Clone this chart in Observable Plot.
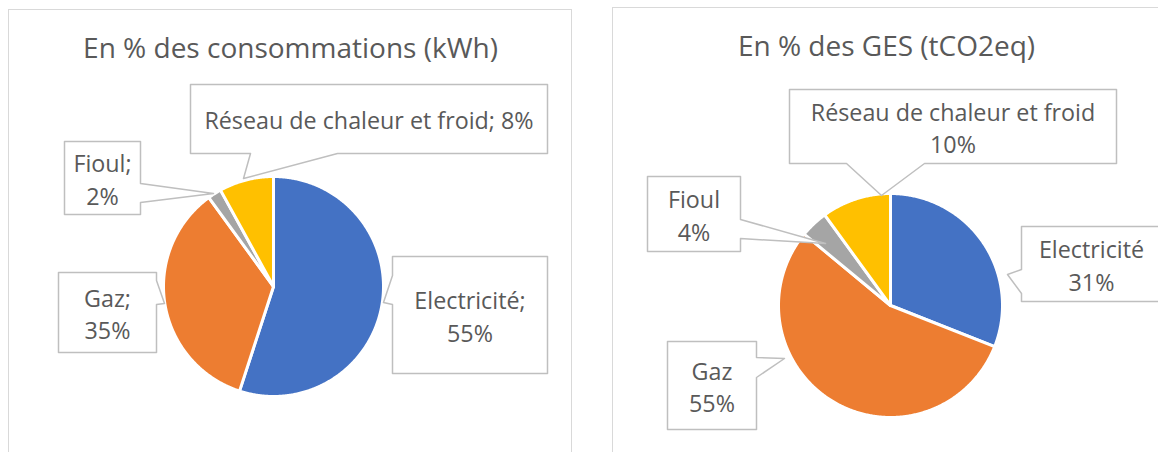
<!DOCTYPE html>
<html><head><meta charset="utf-8">
<script src="https://cdn.jsdelivr.net/npm/d3@7"></script>
<script src="https://cdn.jsdelivr.net/npm/@observablehq/plot@0.6"></script>
<style>
body{margin:0;background:#fff;}
#root{position:relative;width:1158px;height:452px;overflow:hidden;background:#fff;}
.frame{position:absolute;border:1.5px solid #d9d9d9;box-sizing:border-box;}
.plot{position:absolute;}
</style></head><body><div id="root"></div>
<script>
// ---- data ----
const categories = ["Electricité", "Gaz", "Fioul", "Réseau de chaleur et froid"];
const consommations = [55, 35, 2, 8];
const ges = [31, 55, 4, 10];
const titles = ["En % des consommations (kWh)", "En % des GES (tCO2eq)"];
const colors = ["#4472C4", "#ED7D31", "#A5A5A5", "#FFC000"];

// ---- layout ----
const FONT = "'Open Sans', 'Noto Sans', sans-serif";
const TEXT = "#595959";
const layouts = [
  {values: consommations, title: titles[0], sep: ";", left: 8, top: 9, width: 564,
   cx: 273, cy: 286, r: 110, titleX: 290, titleY: 49,
   labels: [
     {box: [392, 256, 547, 373], side: "left", base: [275, 304], tip: [383, 302], wrap: true},
     {box: [58, 272, 156, 352], side: "right", base: [280, 304], tip: [164, 303], wrap: true},
     {box: [64, 141, 140, 214], side: "right", base: [183, 202], tip: [213, 193], wrap: true},
     {box: [190, 84, 547, 153], side: "bottom", base: [250, 337], tip: [243, 178], wrap: false}
   ]},
  {values: ges, title: titles[1], sep: "", left: 612, top: 7, width: 560,
   cx: 890, cy: 305, r: 112, titleX: 886, titleY: 47,
   labels: [
     {box: [1021, 226, 1161, 301], side: "left", base: [269, 293], tip: [1007, 274], wrap: true},
     {box: [667, 341, 756, 429], side: "right", base: [357, 377], tip: [784, 358], wrap: true},
     {box: [647, 176, 740, 251], side: "right", base: [219, 238], tip: [825, 243], wrap: true},
     {box: [789, 89, 1116, 163], side: "bottom", base: [846, 924], tip: [881, 195], wrap: true}
   ]}
];

function calloutPoints(L, id) {
  const [x0, y0, x1, y1] = L.box, [b0, b1] = L.base, [tx, ty] = L.tip;
  const p = [[x0, y0], [x1, y0]];
  if (L.side === "right") p.push([x1, b0], [tx, ty], [x1, b1]);
  p.push([x1, y1]);
  if (L.side === "bottom") p.push([b1, y1], [tx, ty], [b0, y1]);
  p.push([x0, y1]);
  if (L.side === "left") p.push([x0, b1], [tx, ty], [x0, b0]);
  p.push([x0, y0]);
  return p.map(([x, y]) => ({id, x, y}));
}

const root = document.getElementById("root");
layouts.forEach((lay) => {
  const rows = categories.map((cat, i) => ({cat, value: lay.values[i]}));
  const arcs = d3.pie().sort(null).value(d => d.value)(rows);
  const slicePts = [];
  arcs.forEach(a => {
    const cat = a.data.cat;
    slicePts.push({cat, x: lay.cx, y: lay.cy});
    const n = Math.max(2, Math.ceil((a.endAngle - a.startAngle) / (Math.PI / 360)));
    for (let j = 0; j <= n; j++) {
      const t = a.startAngle + (a.endAngle - a.startAngle) * j / n;
      slicePts.push({cat, x: lay.cx + lay.r * Math.sin(t), y: lay.cy - lay.r * Math.cos(t)});
    }
    slicePts.push({cat, x: lay.cx, y: lay.cy});
  });
  const calloutPts = lay.labels.flatMap((L, i) => calloutPoints(L, i));
  const labelRows = lay.labels.map((L, i) => ({
    x: (L.box[0] + L.box[2]) / 2,
    y: (L.box[1] + L.box[3]) / 2,
    text: categories[i] + lay.sep + (L.wrap ? "\n" : " ") + lay.values[i] + "%"
  }));
  const W = lay.width, H = 452 - lay.top;
  const svg = Plot.plot({
    width: W, height: H, margin: 0,
    x: {domain: [lay.left, lay.left + W], range: [0, W], axis: null},
    y: {domain: [lay.top, lay.top + H], range: [0, H], axis: null},
    color: {domain: categories, range: colors},
    style: {background: "transparent", fontFamily: FONT},
    marks: [
      Plot.line(slicePts, {x: "x", y: "y", z: "cat", fill: "cat", stroke: "white", strokeWidth: 3, strokeLinejoin: "round"}),
      Plot.line(calloutPts, {x: "x", y: "y", z: "id", fill: "white", stroke: "#BFBFBF", strokeWidth: 1.5}),
      Plot.text(labelRows, {x: "x", y: "y", text: "text", fontSize: 23.3, lineHeight: 1.39, fill: TEXT, fontFamily: FONT}),
      Plot.text([{x: lay.titleX, y: lay.titleY, t: lay.title}], {x: "x", y: "y", text: "t", fontSize: 28, fill: TEXT, fontFamily: FONT})
    ]
  });
  svg.classList.add("plot");
  svg.style.left = lay.left + "px";
  svg.style.top = lay.top + "px";
  const frame = document.createElement("div");
  frame.className = "frame";
  frame.style.left = lay.left + "px";
  frame.style.top = lay.top + "px";
  frame.style.width = W + "px";
  frame.style.height = (H + 20) + "px";
  root.appendChild(frame);
  root.appendChild(svg);
});
</script></body></html>
